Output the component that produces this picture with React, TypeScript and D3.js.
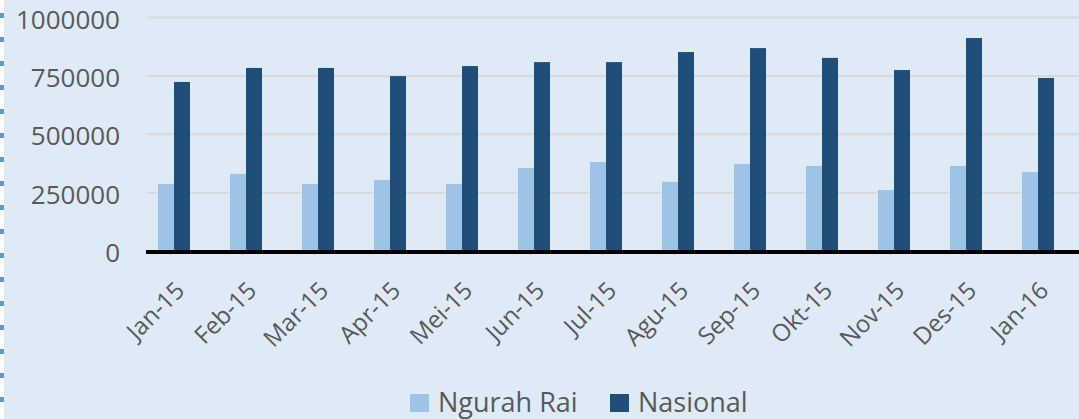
import * as d3 from "d3";

const months = [
  "Jan-15", "Feb-15", "Mar-15", "Apr-15", "Mei-15", "Jun-15", "Jul-15",
  "Agu-15", "Sep-15", "Okt-15", "Nov-15", "Des-15", "Jan-16",
];
const ngurahRai = [
  287000, 330000, 287000, 304000, 287000, 355000, 381000,
  296000, 373000, 364000, 261000, 364000, 338000,
];
const nasional = [
  724000, 784000, 784000, 749000, 792000, 809000, 809000,
  852000, 869000, 827000, 775000, 912000, 741000,
];
const seriesNames = ["Ngurah Rai", "Nasional"];
const yTicks = [0, 250000, 500000, 750000, 1000000];

const W = 1079;
const H = 419;
const BG = "#DEEAF6";
const LIGHT = "#9DC3E6";
const DARK = "#1F4E79";
const TEXT = "#595959";
const FONT = "'Open Sans', sans-serif";

const App = () => {
  const x0 = d3.scaleBand<string>().domain(months).range([138, 1074]);
  const x1 = d3
    .scaleBand<string>()
    .domain(seriesNames)
    .range([x0.bandwidth() / 2 - 16, x0.bandwidth() / 2 + 16]);
  const y = d3.scaleLinear().domain([0, 1000000]).range([251, 17.5]);
  const values = [ngurahRai, nasional];
  const colors = [LIGHT, DARK];

  // dashed strip on the left edge
  const dashes = d3.range(13, H, 24);

  return (
    <svg
      width={W}
      height={H}
      style={{ position: "absolute", left: 0, top: 0, display: "block" }}
    >
      <rect x={0} y={0} width={W} height={H} fill="#ffffff" />
      <rect x={4} y={0} width={W - 4} height={H} fill={BG} />
      {dashes.map((d) => (
        <rect key={d} x={0} y={d} width={4} height={5} fill="#5B9BD5" />
      ))}

      {/* grid */}
      {yTicks.slice(1).map((t) => (
        <line
          key={t}
          x1={147}
          x2={W}
          y1={y(t)}
          y2={y(t)}
          stroke="#D9D9D9"
          strokeWidth={2}
        />
      ))}

      {/* y labels */}
      <g fontFamily={FONT} fontSize={26} fill={TEXT} textAnchor="end">
        {yTicks.map((t) => (
          <text key={t} x={120} y={y(t) + 11}>
            {t}
          </text>
        ))}
      </g>

      {/* bars */}
      {months.map((m, i) => (
        <g key={m} transform={`translate(${x0(m)},0)`}>
          {seriesNames.map((s, j) => (
            <rect
              key={s}
              x={x1(s)}
              y={y(values[j][i])}
              width={x1.bandwidth()}
              height={y(0) - y(values[j][i])}
              fill={colors[j]}
            />
          ))}
        </g>
      ))}

      {/* baseline */}
      <line x1={146} x2={W} y1={252} y2={252} stroke="#000" strokeWidth={4} />

      {/* x labels */}
      <g fontFamily={FONT} fontSize={24} fill={TEXT} textAnchor="end">
        {months.map((m) => {
          const cx = (x0(m) ?? 0) + x0.bandwidth() / 2 + 12;
          const cy = 292;
          return (
            <text key={m} transform={`translate(${cx},${cy}) rotate(-45)`}>
              {m}
            </text>
          );
        })}
      </g>

      {/* legend */}
      <g fontFamily={FONT} fontSize={27} fill={TEXT}>
        <rect x={410} y={394} width={19} height={18} fill={LIGHT} />
        <text x={438} y={412}>{seriesNames[0]}</text>
        <rect x={610} y={394} width={19} height={18} fill={DARK} />
        <text x={638} y={412}>{seriesNames[1]}</text>
      </g>
    </svg>
  );
};

export default App;
